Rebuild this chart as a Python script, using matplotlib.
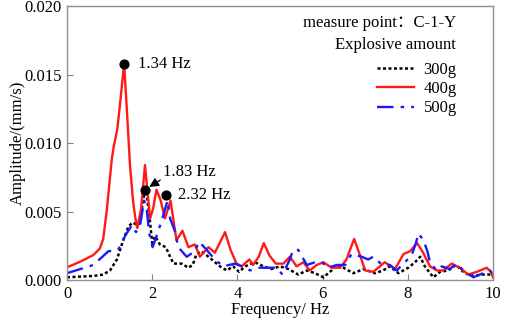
import matplotlib
matplotlib.use("Agg")
import matplotlib.pyplot as plt

plt.rcParams['font.family'] = ['Liberation Serif', 'Noto Sans CJK SC', 'DejaVu Sans']

# 400g (red, solid)
f400 = [0.0, 0.31, 0.62, 0.77, 0.85, 0.93, 1.0, 1.05, 1.1, 1.18, 1.24, 1.34, 1.4, 1.48, 1.55, 1.6, 1.65,
        1.74, 1.83, 1.95,
        2.02, 2.1, 2.2, 2.3, 2.43, 2.57, 2.71, 2.85, 3.0, 3.12, 3.32, 3.47, 3.6, 3.71, 3.84, 3.98, 4.1,
        4.28, 4.37, 4.5, 4.62, 4.75, 4.9, 5.08, 5.23, 5.39, 5.55, 5.7, 5.86, 6.02, 6.21, 6.41, 6.56,
        6.74, 6.88, 7.0, 7.19, 7.46, 7.7, 7.9, 8.05, 8.22, 8.36, 8.52, 8.68, 8.83, 9.03, 9.22, 9.42,
        9.62, 9.85, 9.95, 10.0]
a400 = [0.00093, 0.00134, 0.00183, 0.0023, 0.0030, 0.0050, 0.0072, 0.0088, 0.0098, 0.0110, 0.0127, 0.0158,
        0.0127, 0.0083, 0.0058, 0.0046, 0.0038, 0.0052, 0.0084, 0.0045,
        0.0052, 0.0066, 0.0058, 0.0045, 0.0058, 0.0029, 0.0036,
        0.0024, 0.0026, 0.0017, 0.0024, 0.0020, 0.0028, 0.0035, 0.0022, 0.0012, 0.0010, 0.0015, 0.0011,
        0.0017, 0.0027, 0.0018, 0.0012, 0.0012, 0.0017, 0.0010, 0.0013, 0.0007, 0.0011, 0.0013, 0.0009,
        0.0009, 0.0015, 0.0030, 0.0018, 0.0007, 0.0006, 0.0013, 0.0008, 0.0019, 0.0021, 0.0027, 0.0020,
        0.0010, 0.0007, 0.0007, 0.0012, 0.0009, 0.0004, 0.0006, 0.0009, 0.0006, 0.0002]

# 300g (black, dotted)
f300 = [0.0, 0.62, 0.85, 1.01, 1.17, 1.32, 1.44, 1.54, 1.67, 1.75, 1.83, 1.88, 1.95, 2.0, 2.07, 2.18,
        2.32, 2.42, 2.5, 2.69, 2.85, 2.95, 3.04, 3.16, 3.36, 3.59, 3.75, 3.9, 4.04, 4.18, 4.41, 4.61,
        4.8, 5.0, 5.2, 5.43, 5.63, 5.82, 6.02, 6.21, 6.33, 6.49, 6.72, 6.96, 7.23, 7.42, 7.58, 7.78,
        8.01, 8.17, 8.29, 8.4, 8.6, 8.76, 8.95, 9.13, 9.34, 9.54, 9.73, 9.97]
a300 = [0.0002, 0.0003, 0.0004, 0.0007, 0.0015, 0.0029, 0.0039, 0.0042, 0.0040, 0.0051, 0.0066, 0.0060,
        0.0042, 0.0027, 0.0032, 0.0026, 0.0024, 0.0017, 0.0012, 0.0012, 0.0009, 0.0011, 0.0019, 0.0021,
        0.0016, 0.0010, 0.0007, 0.0010, 0.0006, 0.0010, 0.0013, 0.0010, 0.0008, 0.0010, 0.0008, 0.0004,
        0.0007, 0.0005, 0.0002, 0.0007, 0.0011, 0.0009, 0.0005, 0.0008, 0.0005, 0.0007, 0.0010, 0.0005,
        0.0009, 0.0013, 0.0017, 0.0010, 0.0002, 0.0006, 0.0007, 0.0011, 0.0005, 0.0003, 0.0004, 0.0004]

# 500g (blue, dash-dot)
f500 = [0.0, 0.31, 0.62, 0.97, 1.2, 1.36, 1.52, 1.62, 1.71, 1.81, 1.87, 1.93, 2.01, 2.1, 2.22, 2.36,
        2.42, 2.54, 2.61, 2.81, 3.0, 3.1, 3.28, 3.47, 3.67, 3.94, 4.18, 4.3, 4.49, 4.92, 5.06, 5.23,
        5.31, 5.43, 5.63, 5.82, 5.98, 6.13, 6.33, 6.53, 6.68, 6.92, 7.07, 7.19, 7.4, 7.58, 7.74, 7.93,
        8.09, 8.19, 8.25, 8.37, 8.46, 8.52, 8.68, 8.8, 8.98, 9.15, 9.3, 9.54, 9.77, 9.93, 10.0]
a500 = [0.0005, 0.0008, 0.0011, 0.0021, 0.0022, 0.0032, 0.0040, 0.0035, 0.0039, 0.0058, 0.0052, 0.0034,
        0.0024, 0.0032, 0.0043, 0.0058, 0.0045, 0.0035, 0.0024, 0.0017, 0.0021, 0.0028, 0.0022, 0.0015,
        0.0010, 0.0012, 0.0009, 0.0007, 0.0009, 0.0009, 0.0004, 0.0015, 0.0022, 0.0022, 0.0011, 0.0013,
        0.0013, 0.0009, 0.0011, 0.0011, 0.0019, 0.0017, 0.0015, 0.0017, 0.0011, 0.0011, 0.0007, 0.0013,
        0.0018, 0.0027, 0.0034, 0.0029, 0.0021, 0.0013, 0.0007, 0.0010, 0.0008, 0.0012, 0.0007, 0.0002,
        0.0005, 0.0007, 0.0004]

peak_f = [1.34, 1.83, 2.32]
peak_a = [0.0158, 0.0066, 0.0062]
peak_labels = ["1.34 Hz", "1.83 Hz", "2.32 Hz"]

xticks = [0, 2, 4, 6, 8, 10]
yticks = [0.000, 0.005, 0.010, 0.015, 0.020]

fig = plt.figure(figsize=(5.05, 3.23), dpi=100)
ax = fig.add_axes([0.1327, 0.133, 0.8435, 0.848])

fs = 12
ax.plot(f300, a300, color='black', lw=1.8, linestyle=(0, (1.2, 1.0)), label='300g')
ax.plot(f400, a400, color='#ff1a1a', lw=1.7, linestyle='-', label='400g')
ax.plot(f500, a500, color='#1a1aff', lw=1.7, linestyle=(0, (7, 3, 1.5, 3)), label='500g')

ax.scatter(peak_f, peak_a, s=40, color='black', zorder=5)
ax.text(peak_f[0] + 0.32, peak_a[0], peak_labels[0], fontsize=fs, va='center', ha='left')
ax.text(peak_f[1] + 0.42, 0.0079, peak_labels[1], fontsize=fs, va='center', ha='left')
ax.annotate('', xy=(peak_f[1] + 0.1, peak_a[1] + 0.0002), xytext=(peak_f[1] + 0.36, 0.0073),
            arrowprops=dict(arrowstyle='-|>', color='black', lw=0.9, mutation_scale=14,
                            shrinkA=0, shrinkB=0))
ax.text(peak_f[2] + 0.28, peak_a[2], peak_labels[2], fontsize=fs, va='center', ha='left')

ax.set_xlim(0, 10)
ax.set_ylim(0, 0.020)
ax.set_xticks(xticks)
ax.set_yticks(yticks)
ax.set_xticklabels([str(v) for v in xticks], fontsize=fs)
ax.set_yticklabels(["%.3f" % v for v in yticks], fontsize=fs)
ax.tick_params(direction='in', length=4, width=0.8, color='#808080', pad=4)
for s in ax.spines.values():
    s.set_color('#909090')
    s.set_linewidth(1.0)

ax.set_xlabel('Frequency/ Hz', fontsize=fs, labelpad=0)
ax.set_ylabel('Amplitude/(mm/s)', fontsize=fs, labelpad=-1)

ax.text(0.913, 0.94, 'measure point：C-1-Y', transform=ax.transAxes, fontsize=fs,
        ha='right', va='center')
ax.text(0.913, 0.857, 'Explosive amount', transform=ax.transAxes, fontsize=fs,
        ha='right', va='center')
leg = ax.legend(loc='upper right', bbox_to_anchor=(0.915, 0.797), frameon=False, fontsize=fs,
                handlelength=2.2, handletextpad=0.6, labelspacing=0.2, borderpad=0.0,
                borderaxespad=0.0)

fig.savefig('out.png', dpi=100)
